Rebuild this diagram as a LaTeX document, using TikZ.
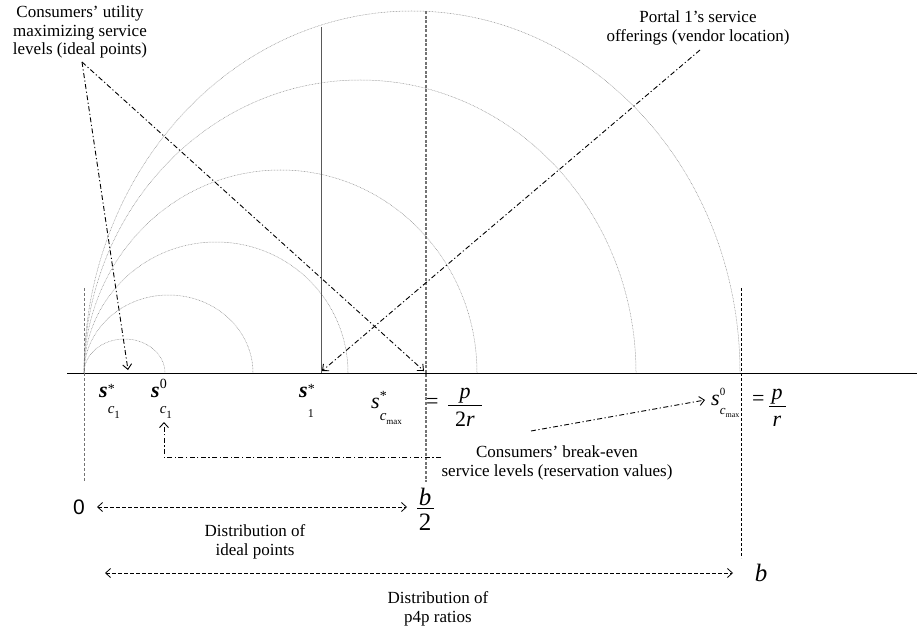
\documentclass[tikz,border=0pt]{standalone}
\usepackage{fontspec}
\setmainfont{Liberation Serif}
\newfontfamily\sansf{Liberation Sans}
\usetikzlibrary{arrows.meta}
\newcommand{\fs}[1]{\fontsize{#1}{#1}\selectfont}
\begin{document}
\begin{tikzpicture}[x=1pt,y=-1pt,
  arcline/.style={draw=black!45, line width=0.5pt, dash pattern=on 0.7pt off 0.8pt},
  ddash/.style={draw=black, line width=0.9pt, dash pattern=on 5pt off 2.5pt on 1.2pt off 2.5pt},
  tip/.style={-{Straight Barb[length=5pt,width=9pt,line width=0.9pt]}},
  dbl/.style={draw=black, line width=0.8pt, dash pattern=on 4pt off 2pt,
    {Straight Barb[length=5pt,width=9pt,line width=0.8pt]}-{Straight Barb[length=5pt,width=9pt,line width=0.8pt]}},
  lbl/.style={font=\fontsize{17}{18.5}\selectfont, align=center, inner sep=0pt},
  bigs/.style={font=\fs{22}, inner sep=0pt, anchor=base west},
]
\useasboundingbox (0,0) rectangle (917,628);

% semicircle-like arcs from the origin
\foreach \a/\b in {40.5/34, 84.5/78, 132/131, 196.5/203, 276/293, 328/362}
  \draw[arcline] (84,373) arc[start angle=180, end angle=360, x radius=\a, y radius=\b];

% axis
\coordinate (axL) at (67,373);
\coordinate (axR) at (917,373);
\draw[line width=0.9pt] (axL) -- (axR);

% vertical guide lines
\coordinate (v0t) at (84,288);   \coordinate (v0b) at (84,482);
\coordinate (v1t) at (321,27);   \coordinate (v1b) at (321,373);
\coordinate (v2t) at (426,11);   \coordinate (v2b) at (426,482);
\coordinate (v3t) at (741,288);  \coordinate (v3b) at (741,558);
\draw[draw=black!55, line width=1pt, dash pattern=on 3pt off 2pt] (v0t) -- (v0b);
\draw[draw=black!65, line width=1pt] (v1b) -- (v1t);
\draw[draw=black!55, line width=1.3pt, dash pattern=on 3pt off 1.6pt] (v2t) -- (v2b);
\draw[draw=black, line width=0.7pt, dash pattern=on 3pt off 2pt] (v3t) -- (v3b);

% labels at top
\node[lbl] (ideal) at (80,32) {Consumers’ utility\\maximizing service\\levels (ideal points)};
\node[lbl] (portal) at (698,28) {Portal 1’s service\\offerings (vendor location)};
\coordinate (ip) at (82,62);
\coordinate (pp) at (700,50);

% axis targets
\coordinate (sc1pt) at (128,370);
\coordinate (scmaxpt) at (424,371);
\coordinate (s1pt) at (322,371);
\draw[ddash,tip] (ip) -- (sc1pt);
\draw[ddash,tip] (ip) -- (scmaxpt);
\draw[ddash,tip] (pp) -- (s1pt);

% axis labels
\node[bigs] (lsc1) at (99,397) {\textbf{\textit{s}}\rlap{\raisebox{4pt}{\fs{14}*}}\raisebox{-16pt}{\fs{15}\textit{c}\raisebox{-5pt}{\fs{11}1}}};
\node[bigs] (lsc10) at (151,397) {\textbf{\textit{s}}\rlap{\raisebox{9pt}{\fs{14}0}}\raisebox{-16pt}{\fs{15}\textit{c}\raisebox{-5pt}{\fs{11}1}}};
\node[bigs] (ls1) at (299,397) {\textbf{\textit{s}}\rlap{\raisebox{4pt}{\fs{14}*}}\raisebox{-20pt}{\fs{12}1}};
\node[bigs] (lscm) at (371,408) {\textit{s}\rlap{\raisebox{8pt}{\fs{14}*}}\raisebox{-12pt}{\fs{15}\textit{c}\raisebox{-4pt}{\fs{9}max}}};
\node[bigs] (eq1) at (426,408) {=};
\node[bigs, anchor=base] (p1) at (465,398) {\textit{p}};
\coordinate (fb1l) at (448,405); \coordinate (fb1r) at (482,405);
\draw[line width=0.9pt] (fb1l) -- (fb1r);
\node[bigs, anchor=base] (r1) at (465,426) {2\textit{r}};

\node[bigs] (ls0m) at (711,405) {\textit{s}\rlap{\raisebox{10pt}{\fs{11}0}}\raisebox{-9pt}{\fs{13}\textit{c}\raisebox{-3pt}{\fs{8}max}}};
\node[bigs] (eq2) at (752,405) {=};
\node[bigs, anchor=base] (p2) at (777,399) {\textit{p}};
\coordinate (fb2l) at (769,406); \coordinate (fb2r) at (786,406);
\draw[line width=0.9pt] (fb2l) -- (fb2r);
\node[bigs, anchor=base] (r2) at (777,426) {\textit{r}};

% break-even label and connectors
\node[lbl] (breakeven) at (557,463) {Consumers’ break-even\\service levels (reservation values)};
\coordinate (bep) at (531,431);
\coordinate (s0maxpt) at (705,400);
\draw[ddash,tip] (bep) -- (s0maxpt);
\coordinate (beh) at (441,457);
\coordinate (s0c1pt) at (164,422);
\draw[ddash,tip] (beh) -| (s0c1pt);

% distribution of ideal points
\node[font=\sansf\fs{21}, inner sep=0pt] (zero) at (79,507) {0};
\node[font=\fs{25}, inner sep=0pt, anchor=base] (bnum) at (425,505) {\textit{b}};
\coordinate (fb3l) at (417,508); \coordinate (fb3r) at (434,508);
\draw[line width=0.9pt] (fb3l) -- (fb3r);
\node[font=\fs{25}, inner sep=0pt, anchor=base] (bden) at (425,530) {2};
\coordinate (d1l) at (97,507); \coordinate (d1r) at (407,507);
\draw[dbl] (d1l) -- (d1r);
\node[lbl] (dist1) at (255,542) {Distribution of\\ideal points};

% distribution of p4p ratios
\node[font=\fs{25}, inner sep=0pt] (bb) at (761,573) {\textit{b}};
\coordinate (d2l) at (105,573); \coordinate (d2r) at (733,573);
\draw[dbl] (d2l) -- (d2r);
\node[lbl] (dist2) at (438,609) {Distribution of\\p4p ratios};
\end{tikzpicture}
\end{document}
